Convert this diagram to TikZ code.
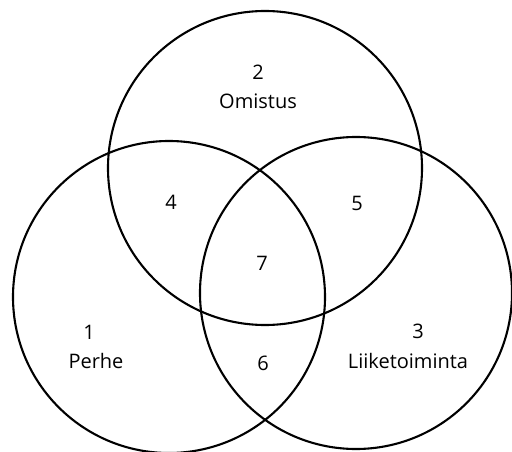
\documentclass[tikz,border=0pt]{standalone}
\usepackage{fontspec}
\setmainfont{Open Sans}
\begin{document}
\begin{tikzpicture}[x=1pt,y=-1pt,
  ring/.style={draw=black,line width=2.1pt},
  lbl/.style={font=\fontsize{20}{24}\selectfont,inner sep=0pt,anchor=center}]
\useasboundingbox (0,0) rectangle (512,452);
\clip (0,0) rectangle (512,452);
\fill[white] (0,0) rectangle (512,452);
\node[ring,circle,minimum size=314pt,inner sep=0pt] (top) at (265,168) {};
\node[ring,circle,minimum size=312pt,inner sep=0pt] (left) at (169,297) {};
\node[ring,circle,minimum size=312pt,inner sep=0pt] (right) at (356,293) {};
\node[lbl] (n2) at (258,72) {2};
\node[lbl] (omistus) at (258,101) {Omistus};
\node[lbl] (n4) at (171,202) {4};
\node[lbl] (n5) at (357,203) {5};
\node[lbl] (n7) at (262,263) {7};
\node[lbl] (n1) at (89,332) {1};
\node[lbl] (perhe) at (96,361) {Perhe};
\node[lbl] (n6) at (263,363) {6};
\node[lbl] (n3) at (418,331) {3};
\node[lbl] (liike) at (408,361) {Liiketoiminta};
\end{tikzpicture}
\end{document}
